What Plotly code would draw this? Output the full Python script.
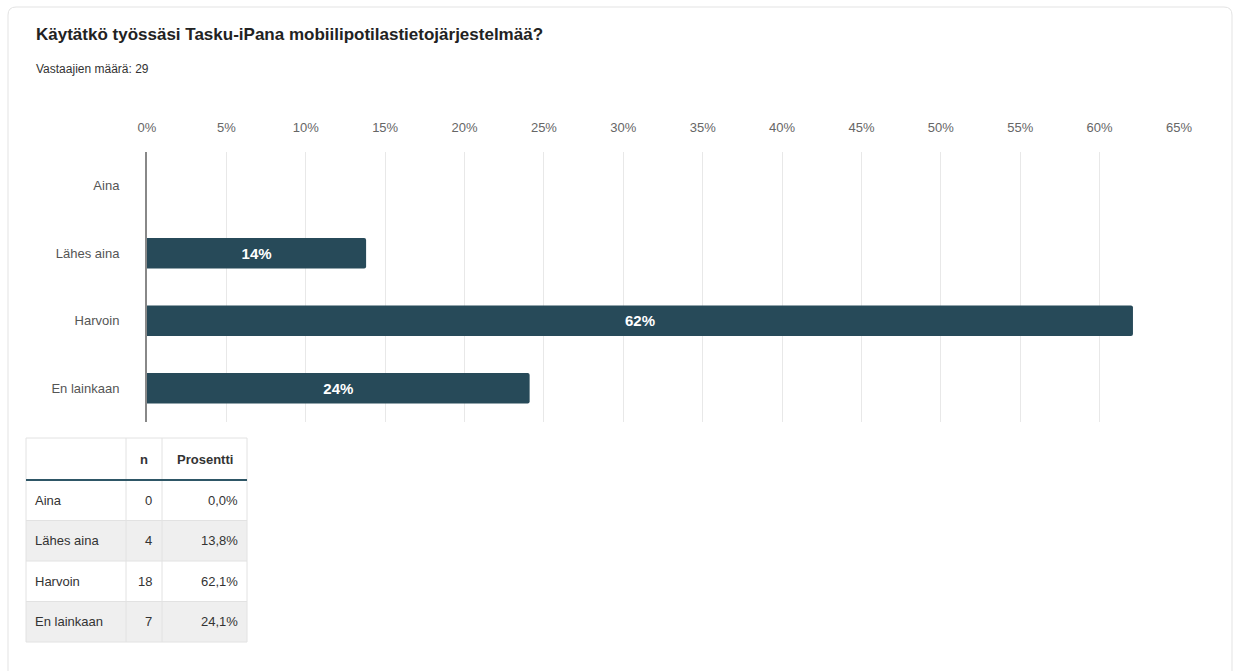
import plotly.graph_objects as go

categories = ["Aina", "Lähes aina", "Harvoin", "En lainkaan"]
counts = [0, 4, 18, 7]
percents = [0.0, 13.8, 62.1, 24.1]
x_ticks = [0, 5, 10, 15, 20, 25, 30, 35, 40, 45, 50, 55, 60, 65]
table_headers = ["", "n", "Prosentti"]
title_text = "Käytätkö työssäsi Tasku-iPana mobiilipotilastietojärjestelmää?"
subtitle_text = "Vastaajien määrä: 29"

W, H = 1233, 671
FONT = "Liberation Sans, Arial, sans-serif"
BAR = "#274a59"


def px_x(p):
    return p / W


def px_y(p):
    return 1 - p / H


bar_text = [f"{round(v)}%" if v > 0 else "" for v in percents]

fig = go.Figure()
fig.add_trace(go.Bar(
    x=percents, y=categories, orientation="h",
    marker=dict(color=BAR, line=dict(width=0), cornerradius=2),
    text=bar_text, textposition="inside", insidetextanchor="middle",
    textfont=dict(family=FONT, size=15, color="white", weight="bold"),
    hoverinfo="skip", width=0.45,
))

shapes = []
annotations = []

# card border
rx, ry = 8 / W, 8 / H
x0, x1 = px_x(8), px_x(1232)
y0, y1 = px_y(7), px_y(690)
path = (f"M {x0+rx},{y0} L {x1-rx},{y0} Q {x1},{y0} {x1},{y0-ry} "
        f"L {x1},{y1} L {x0},{y1} L {x0},{y0-ry} Q {x0},{y0} {x0+rx},{y0} Z")
shapes.append(dict(type="path", path=path, xref="paper", yref="paper",
                   line=dict(color="#e3e3e3", width=1), layer="below"))

# table built from the data lists
col_edges = [26, 126, 162, 247]
header_top, header_bot = 438, 480
row_h = 40.5
grid_col = "#e2e2e2"
n_rows = len(categories)
table_bottom = header_bot + row_h * n_rows

for i in range(n_rows):
    top = header_bot + row_h * i
    fill = "white" if i % 2 == 0 else "#efefef"
    shapes.append(dict(type="rect", xref="paper", yref="paper",
                       x0=px_x(col_edges[0]), x1=px_x(col_edges[-1]),
                       y0=px_y(top), y1=px_y(top + row_h),
                       fillcolor=fill, line=dict(width=0), layer="below"))
for yy in [header_top] + [header_bot + row_h * i for i in range(1, n_rows + 1)]:
    shapes.append(dict(type="line", xref="paper", yref="paper",
                       x0=px_x(col_edges[0]), x1=px_x(col_edges[-1]),
                       y0=px_y(yy), y1=px_y(yy),
                       line=dict(color=grid_col, width=1)))
for xx in col_edges:
    shapes.append(dict(type="line", xref="paper", yref="paper",
                       x0=px_x(xx), x1=px_x(xx),
                       y0=px_y(header_top), y1=px_y(table_bottom),
                       line=dict(color=grid_col, width=1)))
shapes.append(dict(type="line", xref="paper", yref="paper",
                   x0=px_x(col_edges[0]), x1=px_x(col_edges[-1]),
                   y0=px_y(header_bot), y1=px_y(header_bot),
                   line=dict(color="#2e5666", width=2)))

cell_font = dict(family=FONT, size=13, color="#333333")
for j, h in enumerate(table_headers):
    if h:
        annotations.append(dict(
            text=f"<b>{h}</b>", xref="paper", yref="paper",
            x=px_x((col_edges[j] + col_edges[j + 1]) / 2),
            y=px_y((header_top + header_bot) / 2),
            xanchor="center", yanchor="middle", showarrow=False, font=cell_font))

pct_strings = [f"{v:.1f}".replace(".", ",") + "%" for v in percents]
for i in range(n_rows):
    yc = px_y(header_bot + row_h * i + row_h / 2)
    annotations.append(dict(text=categories[i], xref="paper", yref="paper",
                            x=px_x(col_edges[0] + 7), y=yc, xanchor="left",
                            yanchor="middle", showarrow=False, font=cell_font))
    annotations.append(dict(text=str(counts[i]), xref="paper", yref="paper",
                            x=px_x(col_edges[2] - 8), y=yc, xanchor="right",
                            yanchor="middle", showarrow=False, font=cell_font))
    annotations.append(dict(text=pct_strings[i], xref="paper", yref="paper",
                            x=px_x(col_edges[3] - 7), y=yc, xanchor="right",
                            yanchor="middle", showarrow=False, font=cell_font))

annotations.append(dict(text=f"<b>{title_text}</b>", x=px_x(34), y=px_y(34),
                        xref="paper", yref="paper", xanchor="left", yanchor="middle",
                        showarrow=False,
                        font=dict(family=FONT, size=17, color="#222222")))
annotations.append(dict(text=subtitle_text, x=px_x(34), y=px_y(69),
                        xref="paper", yref="paper", xanchor="left", yanchor="middle",
                        showarrow=False,
                        font=dict(family=FONT, size=12, color="#333333")))

fig.update_layout(
    template="none",
    width=W, height=H, autosize=False,
    margin=dict(l=0, r=0, t=0, b=0, pad=0),
    paper_bgcolor="white", plot_bgcolor="rgba(0,0,0,0)",
    showlegend=False,
    font=dict(family=FONT),
    xaxis=dict(
        domain=[px_x(147), px_x(1179)],
        range=[0, 65], side="top", automargin=False,
        tickmode="array", tickvals=x_ticks,
        ticktext=[f"{t}%" for t in x_ticks],
        tickfont=dict(family=FONT, size=13, color="#666666"),
        showgrid=True, gridcolor="#e8e8e8", gridwidth=1,
        zeroline=False, showline=False, ticks="",
        ticklabelstandoff=16, fixedrange=True,
    ),
    yaxis=dict(
        domain=[px_y(422), px_y(152)],
        range=[3.5, -0.5], automargin=False,
        tickfont=dict(family=FONT, size=13, color="#555555"),
        showgrid=False, zeroline=False,
        showline=True, linecolor="#888888", linewidth=2,
        ticks="", ticklabelstandoff=23, fixedrange=True,
    ),
    shapes=shapes,
    annotations=annotations,
)

post = ("document.documentElement.style.margin='0';"
        "document.body.style.margin='0';"
        "document.body.style.padding='0';"
        "document.body.style.overflow='hidden';"
        "document.documentElement.style.overflow='hidden';")

fig.write_html("out.html", config={"responsive": False, "displayModeBar": False},
               post_script=post)
